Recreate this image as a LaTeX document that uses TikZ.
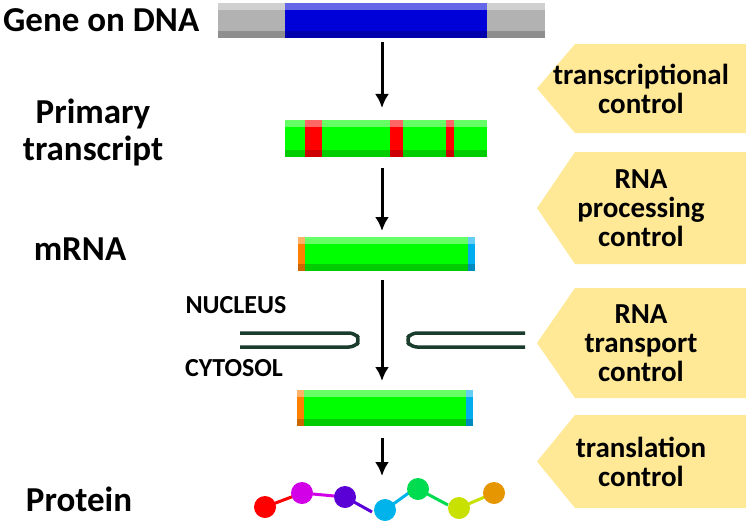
\documentclass[tikz,border=0pt]{standalone}
\usepackage{fontspec}
\setmainfont{Carlito}
\usetikzlibrary{positioning}
\usetikzlibrary{arrows.meta}
\definecolor{callout}{RGB}{255,232,150}
\definecolor{membrane}{RGB}{25,60,45}
\definecolor{bmag}{RGB}{210,0,230}
\definecolor{bpur}{RGB}{90,0,215}
\definecolor{bcyan}{RGB}{0,180,235}
\definecolor{bgreen}{RGB}{0,220,80}
\definecolor{blime}{RGB}{200,225,0}
\definecolor{borange}{RGB}{230,150,0}
\tikzset{
  lbl/.style={font=\bfseries\fontsize{35}{37}\selectfont, align=center},
  ctl/.style={font=\bfseries\fontsize{29}{29}\selectfont, align=center},
  cell/.style={font=\bfseries\fontsize{26}{28}\selectfont},
  flow/.style={-{Latex[length=14pt,width=14pt]}, line width=3pt},
  bead/.style={circle, inner sep=0pt, minimum size=22pt},
}
% bar: x1, x2, y1, y2, colour
\newcommand{\strand}[5]{%
  \fill[#5] (#1,#3) rectangle (#2,#4);
  \fill[white, opacity=0.4] (#1,#3) rectangle (#2,#3+7);
  \fill[black, opacity=0.2] (#2,#4) rectangle (#1,#4-7);}
\begin{document}
\begin{tikzpicture}[x=1pt, y=-1pt]
  \useasboundingbox (0,0) rectangle (746,524);

  % Gene on DNA
  \strand{218}{285}{3}{38}{gray!60}
  \strand{285}{487}{3}{38}{blue!85!black}
  \strand{487}{545}{3}{38}{gray!60}
  \node[lbl, anchor=west, inner sep=0pt] (gene) at (3,20) {Gene on DNA};

  % Primary transcript
  \strand{285}{487}{120}{157}{green}
  \strand{305}{322}{120}{157}{red}
  \strand{390}{403}{120}{157}{red}
  \strand{446}{454}{120}{157}{red}
  \node[lbl] (prim) at (93,132) {Primary\\transcript};

  % mRNA
  \strand{298}{305}{237}{271}{orange}
  \strand{305}{468}{237}{271}{green}
  \strand{468}{475}{237}{271}{cyan}
  \node[lbl] (mrna) at (80,249) {mRNA};

  % membrane
  \draw[membrane, line width=3.5pt, rounded corners=6pt]
    (240,333) -- (355,333) -- (360,340) -- (355,347) -- (240,347);
  \draw[membrane, line width=3.5pt, rounded corners=6pt]
    (525,333) -- (411,333) -- (406,340) -- (411,347) -- (525,347);
  \node[cell] (nuc) at (236,305) {NUCLEUS};
  \node[cell] (cyt) at (234,368) {CYTOSOL};

  % mRNA in cytosol
  \strand{297}{304}{390}{426}{orange}
  \strand{304}{466}{390}{426}{green}
  \strand{466}{473}{390}{426}{cyan}

  % arrows
  \coordinate (a1) at (382,42);  \coordinate (b1) at (382,108);
  \coordinate (a2) at (382,168); \coordinate (b2) at (382,231);
  \coordinate (a3) at (382,280); \coordinate (b3) at (382,381);
  \coordinate (a4) at (382,438); \coordinate (b4) at (382,476);
  \foreach \i in {1,...,4} \draw[flow] (a\i) -- (b\i);

  % Protein
  \node[lbl] (prot) at (79,499) {Protein};
  \draw[line width=3pt, red] (265,507) -- (302,493);
  \draw[line width=3pt, bmag] (302,493) -- (345,497);
  \draw[line width=3pt, bpur] (345,497) -- (372,512);
  \draw[line width=3pt, bcyan] (385,510) -- (410,492);
  \draw[line width=3pt, bgreen] (418,489) -- (448,505);
  \draw[line width=3pt, blime] (459,508) -- (494,493);
  \foreach \x/\y/\c [count=\k] in {265/507/red, 302/493/bmag,
      345/497/bpur, 385/510/bcyan, 418/489/bgreen,
      459/508/blime, 494/493/borange}
    \node[bead, fill=\c] (aa\k) at (\x,\y) {};

  % control steps
  \foreach \ya/\yb/\txt [count=\k] in {
      44/133/{transcriptional\\control},
      152/264/{RNA\\processing\\control},
      288/398/{RNA\\transport\\control},
      415/508/{translation\\control}} {
    \fill[callout] (575,\ya) -- (746,\ya) -- (746,\yb) -- (575,\yb)
      -- (537,{(\ya+\yb)/2}) -- cycle;
    \node[ctl] (ctl\k) at (641,{(\ya+\yb)/2}) {\txt};
  }
\end{tikzpicture}
\end{document}
